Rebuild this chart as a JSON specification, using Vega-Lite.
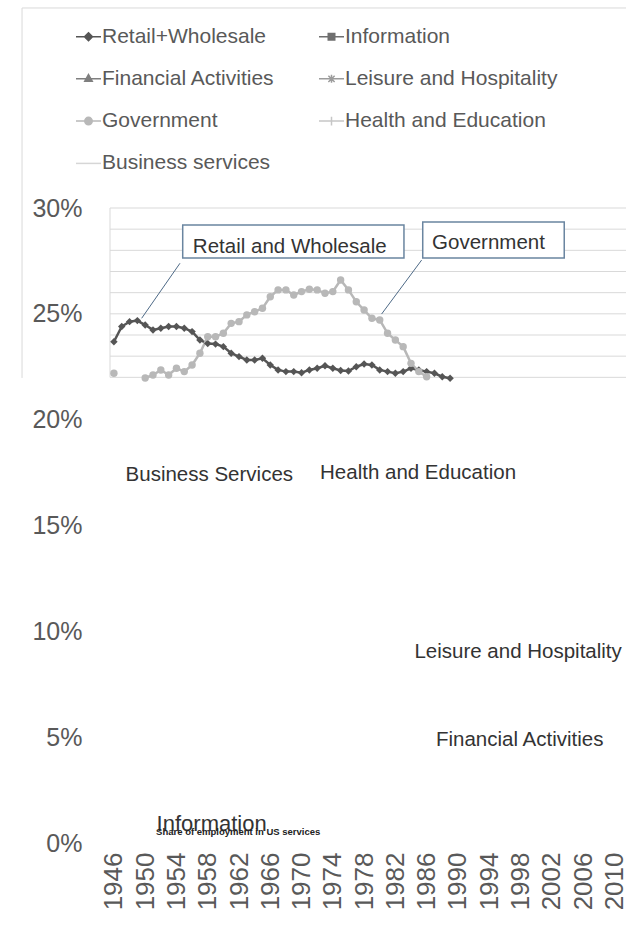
{
  "$schema": "https://vega.github.io/schema/vega-lite/v6.json",
  "autosize": {"type": "none"},
  "padding": {"left": 110, "top": 208, "right": 0, "bottom": 89},
  "width": 516,
  "height": 635,
  "background": "white",
  "config": {
    "view": {"stroke": null},
    "font": "Liberation Sans",
    "axis": {"grid": false, "domain": false, "ticks": false, "labelColor": "#595959", "labelFont": "Liberation Sans", "title": null},
    "axisX": {"labelAngle": 270, "labelPadding": 9, "labelFontSize": 26, "labelFlush": false, "labelOverlap": false},
    "axisY": {"labelPadding": 28, "labelFontSize": 25}
  },
  "datasets": {
    "series": [
      {"series": "Retail+Wholesale", "seg": "R", "year": 1946, "value": 0.2368},
      {"series": "Retail+Wholesale", "seg": "R", "year": 1947, "value": 0.2440},
      {"series": "Retail+Wholesale", "seg": "R", "year": 1948, "value": 0.2463},
      {"series": "Retail+Wholesale", "seg": "R", "year": 1949, "value": 0.2468},
      {"series": "Retail+Wholesale", "seg": "R", "year": 1950, "value": 0.2447},
      {"series": "Retail+Wholesale", "seg": "R", "year": 1951, "value": 0.2424},
      {"series": "Retail+Wholesale", "seg": "R", "year": 1952, "value": 0.2432},
      {"series": "Retail+Wholesale", "seg": "R", "year": 1953, "value": 0.2440},
      {"series": "Retail+Wholesale", "seg": "R", "year": 1954, "value": 0.2440},
      {"series": "Retail+Wholesale", "seg": "R", "year": 1955, "value": 0.2432},
      {"series": "Retail+Wholesale", "seg": "R", "year": 1956, "value": 0.2416},
      {"series": "Retail+Wholesale", "seg": "R", "year": 1957, "value": 0.2376},
      {"series": "Retail+Wholesale", "seg": "R", "year": 1958, "value": 0.2360},
      {"series": "Retail+Wholesale", "seg": "R", "year": 1959, "value": 0.2357},
      {"series": "Retail+Wholesale", "seg": "R", "year": 1960, "value": 0.2345},
      {"series": "Retail+Wholesale", "seg": "R", "year": 1961, "value": 0.2314},
      {"series": "Retail+Wholesale", "seg": "R", "year": 1962, "value": 0.2298},
      {"series": "Retail+Wholesale", "seg": "R", "year": 1963, "value": 0.2282},
      {"series": "Retail+Wholesale", "seg": "R", "year": 1964, "value": 0.2282},
      {"series": "Retail+Wholesale", "seg": "R", "year": 1965, "value": 0.2290},
      {"series": "Retail+Wholesale", "seg": "R", "year": 1966, "value": 0.2258},
      {"series": "Retail+Wholesale", "seg": "R", "year": 1967, "value": 0.2235},
      {"series": "Retail+Wholesale", "seg": "R", "year": 1968, "value": 0.2227},
      {"series": "Retail+Wholesale", "seg": "R", "year": 1969, "value": 0.2227},
      {"series": "Retail+Wholesale", "seg": "R", "year": 1970, "value": 0.2222},
      {"series": "Retail+Wholesale", "seg": "R", "year": 1971, "value": 0.2235},
      {"series": "Retail+Wholesale", "seg": "R", "year": 1972, "value": 0.2243},
      {"series": "Retail+Wholesale", "seg": "R", "year": 1973, "value": 0.2255},
      {"series": "Retail+Wholesale", "seg": "R", "year": 1974, "value": 0.2243},
      {"series": "Retail+Wholesale", "seg": "R", "year": 1975, "value": 0.2232},
      {"series": "Retail+Wholesale", "seg": "R", "year": 1976, "value": 0.2230},
      {"series": "Retail+Wholesale", "seg": "R", "year": 1977, "value": 0.2250},
      {"series": "Retail+Wholesale", "seg": "R", "year": 1978, "value": 0.2263},
      {"series": "Retail+Wholesale", "seg": "R", "year": 1979, "value": 0.2258},
      {"series": "Retail+Wholesale", "seg": "R", "year": 1980, "value": 0.2235},
      {"series": "Retail+Wholesale", "seg": "R", "year": 1981, "value": 0.2227},
      {"series": "Retail+Wholesale", "seg": "R", "year": 1982, "value": 0.2219},
      {"series": "Retail+Wholesale", "seg": "R", "year": 1983, "value": 0.2227},
      {"series": "Retail+Wholesale", "seg": "R", "year": 1984, "value": 0.2243},
      {"series": "Retail+Wholesale", "seg": "R", "year": 1985, "value": 0.2235},
      {"series": "Retail+Wholesale", "seg": "R", "year": 1986, "value": 0.2227},
      {"series": "Retail+Wholesale", "seg": "R", "year": 1987, "value": 0.2219},
      {"series": "Retail+Wholesale", "seg": "R", "year": 1988, "value": 0.2203},
      {"series": "Retail+Wholesale", "seg": "R", "year": 1989, "value": 0.2196},
      {"series": "Government", "seg": "G1", "year": 1946, "value": 0.2219},
      {"series": "Government", "seg": "G2", "year": 1950, "value": 0.2197},
      {"series": "Government", "seg": "G2", "year": 1951, "value": 0.2211},
      {"series": "Government", "seg": "G2", "year": 1952, "value": 0.2235},
      {"series": "Government", "seg": "G2", "year": 1953, "value": 0.2211},
      {"series": "Government", "seg": "G2", "year": 1954, "value": 0.2243},
      {"series": "Government", "seg": "G2", "year": 1955, "value": 0.2227},
      {"series": "Government", "seg": "G2", "year": 1956, "value": 0.2258},
      {"series": "Government", "seg": "G2", "year": 1957, "value": 0.2314},
      {"series": "Government", "seg": "G2", "year": 1958, "value": 0.2392},
      {"series": "Government", "seg": "G2", "year": 1959, "value": 0.2392},
      {"series": "Government", "seg": "G2", "year": 1960, "value": 0.2408},
      {"series": "Government", "seg": "G2", "year": 1961, "value": 0.2455},
      {"series": "Government", "seg": "G2", "year": 1962, "value": 0.2463},
      {"series": "Government", "seg": "G2", "year": 1963, "value": 0.2495},
      {"series": "Government", "seg": "G2", "year": 1964, "value": 0.2510},
      {"series": "Government", "seg": "G2", "year": 1965, "value": 0.2526},
      {"series": "Government", "seg": "G2", "year": 1966, "value": 0.2581},
      {"series": "Government", "seg": "G2", "year": 1967, "value": 0.2613},
      {"series": "Government", "seg": "G2", "year": 1968, "value": 0.2613},
      {"series": "Government", "seg": "G2", "year": 1969, "value": 0.2589},
      {"series": "Government", "seg": "G2", "year": 1970, "value": 0.2605},
      {"series": "Government", "seg": "G2", "year": 1971, "value": 0.2616},
      {"series": "Government", "seg": "G2", "year": 1972, "value": 0.2613},
      {"series": "Government", "seg": "G2", "year": 1973, "value": 0.2597},
      {"series": "Government", "seg": "G2", "year": 1974, "value": 0.2605},
      {"series": "Government", "seg": "G2", "year": 1975, "value": 0.2660},
      {"series": "Government", "seg": "G2", "year": 1976, "value": 0.2613},
      {"series": "Government", "seg": "G2", "year": 1977, "value": 0.2557},
      {"series": "Government", "seg": "G2", "year": 1978, "value": 0.2518},
      {"series": "Government", "seg": "G2", "year": 1979, "value": 0.2479},
      {"series": "Government", "seg": "G2", "year": 1980, "value": 0.2471},
      {"series": "Government", "seg": "G2", "year": 1981, "value": 0.2408},
      {"series": "Government", "seg": "G2", "year": 1982, "value": 0.2376},
      {"series": "Government", "seg": "G2", "year": 1983, "value": 0.2345},
      {"series": "Government", "seg": "G2", "year": 1984, "value": 0.2266},
      {"series": "Government", "seg": "G2", "year": 1985, "value": 0.2227},
      {"series": "Government", "seg": "G2", "year": 1986, "value": 0.2203}
    ],
    "grid": [
      {"value": 0.22}, {"value": 0.23}, {"value": 0.24}, {"value": 0.25}, {"value": 0.26},
      {"value": 0.27}, {"value": 0.28}, {"value": 0.29}, {"value": 0.30}
    ],
    "axisline": [
      {"x1": 1945.5, "x2": 1945.5, "y1": 0.22, "y2": 0.30},
      {"x1": 1934.25, "x2": 1934.25, "y1": 0.2197, "y2": 0.3945},
      {"x1": 1934.25, "x2": 2011.5, "y1": 0.3945, "y2": 0.3945}
    ],
    "leaders": [
      {"x1": 1954.45, "y1": 0.2739, "x2": 1949.55, "y2": 0.2479},
      {"x1": 1985.36, "y1": 0.2754, "x2": 1980.24, "y2": 0.2499}
    ],
    "boxes": [
      {"x1": 1954.8, "x2": 1983.1, "y1": 0.2764, "y2": 0.2920},
      {"x1": 1985.5, "x2": 2003.6, "y1": 0.2764, "y2": 0.2934}
    ],
    "boxtext": [
      {"text": "Retail and Wholesale", "year": 1956.1, "value": 0.2816},
      {"text": "Government", "year": 1986.7, "value": 0.2835}
    ],
    "labels": [
      {"text": "Business Services", "year": 1958.2, "value": 0.1739},
      {"text": "Health and Education", "year": 1984.9, "value": 0.1748},
      {"text": "Leisure and Hospitality", "year": 1997.7, "value": 0.0903},
      {"text": "Financial Activities", "year": 1997.9, "value": 0.0487}
    ],
    "info": [{"text": "Information", "year": 1958.5, "value": 0.0092}],
    "tiny": [{"text": "Share of employment in US services", "year": 1961.9, "value": 0.0050}]
  },
  "layer": [
    {
      "data": {"name": "grid"},
      "mark": {"type": "rule", "color": "#d9d9d9", "strokeWidth": 1},
      "encoding": {
        "y": {"field": "value", "type": "quantitative", "scale": {"domain": [0, 0.3], "nice": false}}
      }
    },
    {
      "data": {"name": "axisline"},
      "mark": {"type": "rule", "color": "#d9d9d9", "strokeWidth": 1},
      "encoding": {
        "x": {"field": "x1", "type": "quantitative"},
        "x2": {"field": "x2"},
        "y": {"field": "y1", "type": "quantitative"},
        "y2": {"field": "y2"}
      }
    },
    {
      "data": {"name": "leaders"},
      "mark": {"type": "rule", "color": "#4e6a87", "strokeWidth": 1},
      "encoding": {
        "x": {"field": "x1", "type": "quantitative"},
        "x2": {"field": "x2"},
        "y": {"field": "y1", "type": "quantitative"},
        "y2": {"field": "y2"}
      }
    },
    {
      "data": {"name": "boxes"},
      "mark": {"type": "rect", "fill": "white", "stroke": "#6a85a0", "strokeWidth": 1.5},
      "encoding": {
        "x": {"field": "x1", "type": "quantitative"},
        "x2": {"field": "x2"},
        "y": {"field": "y1", "type": "quantitative"},
        "y2": {"field": "y2"}
      }
    },
    {
      "data": {"name": "boxtext"},
      "mark": {"type": "text", "align": "left", "baseline": "middle", "fontSize": 20.5, "color": "#333333", "font": "Liberation Sans"},
      "encoding": {
        "x": {"field": "year", "type": "quantitative"},
        "y": {"field": "value", "type": "quantitative"},
        "text": {"field": "text"}
      }
    },
    {
      "data": {"name": "series"},
      "mark": {"type": "line", "strokeWidth": 2.5},
      "encoding": {
        "x": {
          "field": "year", "type": "quantitative",
          "scale": {"domain": [1945.5, 2011.5], "nice": false, "zero": false},
          "axis": {
            "values": [1946, 1950, 1954, 1958, 1962, 1966, 1970, 1974, 1978, 1982, 1986, 1990, 1994, 1998, 2002, 2006, 2010],
            "tickCount": 40,
            "format": "d", "labelOverlap": false, "labelFlush": false, "labelAngle": 270
          }
        },
        "y": {
          "field": "value", "type": "quantitative",
          "axis": {"values": [0, 0.05, 0.1, 0.15, 0.2, 0.25, 0.3], "tickCount": 20, "format": ".0%", "labelOverlap": false}
        },
        "detail": {"field": "seg"},
        "color": {
          "field": "series", "type": "nominal",
          "scale": {
            "domain": ["Retail+Wholesale", "Financial Activities", "Government", "Business services", "Information", "Leisure and Hospitality", "Health and Education"],
            "range": ["#555555", "#7f7f7f", "#b8b8b8", "#d6d6d6", "#6f6f6f", "#9c9c9c", "#c6c6c6"]
          },
          "legend": {
            "title": null, "orient": "none", "legendX": -35, "legendY": -185, "columns": 2,
            "columnPadding": 41, "rowPadding": 18.3, "padding": 0,
            "labelFont": "Liberation Sans", "labelFontSize": 21, "labelColor": "#595959",
            "labelOffset": 0, "labelLimit": 400, "symbolSize": 625,
            "encode": {
              "symbols": {
                "update": {
                  "shape": {"signal": "datum.value==='Retail+Wholesale'?'M-1,0H1M0,-0.32L0.32,0L0,0.32L-0.32,0Z':datum.value==='Information'?'M-1,0H1M-0.26,-0.26H0.26V0.26H-0.26Z':datum.value==='Financial Activities'?'M-1,0H1M0,-0.34L0.3,0.2L-0.3,0.2Z':datum.value==='Leisure and Hospitality'?'M-1,0H1M-0.25,-0.25L0.25,0.25M-0.25,0.25L0.25,-0.25M0,-0.32V0.32':datum.value==='Government'?'M-1,0H1M0.3,0A0.3,0.3 0 1,1 -0.3,0A0.3,0.3 0 1,1 0.3,0Z':datum.value==='Health and Education'?'M-1,0H1M0,-0.35V0.35':'M-1,0H1'"},
                  "fill": {"signal": "scale('color', datum.value)"},
                  "stroke": {"signal": "scale('color', datum.value)"},
                  "strokeWidth": {"value": 1.5},
                  "opacity": {"value": 1},
                  "size": {"value": 625}
                }
              }
            }
          }
        }
      }
    },
    {
      "data": {"name": "series"},
      "mark": {"type": "point", "filled": true, "opacity": 1, "size": 55},
      "encoding": {
        "x": {"field": "year", "type": "quantitative"},
        "y": {"field": "value", "type": "quantitative"},
        "color": {"field": "series", "type": "nominal"},
        "shape": {"field": "series", "type": "nominal", "scale": {"domain": ["Retail+Wholesale", "Government"], "range": ["diamond", "circle"]}, "legend": null}
      }
    },
    {
      "data": {"name": "labels"},
      "mark": {"type": "text", "align": "center", "baseline": "middle", "fontSize": 20.5, "color": "#333333", "font": "Liberation Sans"},
      "encoding": {
        "x": {"field": "year", "type": "quantitative"},
        "y": {"field": "value", "type": "quantitative"},
        "text": {"field": "text"}
      }
    },
    {
      "data": {"name": "info"},
      "mark": {"type": "text", "align": "center", "baseline": "middle", "fontSize": 22, "color": "#333333", "font": "Liberation Sans"},
      "encoding": {
        "x": {"field": "year", "type": "quantitative"},
        "y": {"field": "value", "type": "quantitative"},
        "text": {"field": "text"}
      }
    },
    {
      "data": {"name": "tiny"},
      "mark": {"type": "text", "align": "center", "baseline": "middle", "fontSize": 9.5, "fontWeight": "bold", "color": "#222222", "font": "Liberation Sans"},
      "encoding": {
        "x": {"field": "year", "type": "quantitative"},
        "y": {"field": "value", "type": "quantitative"},
        "text": {"field": "text"}
      }
    }
  ]
}
